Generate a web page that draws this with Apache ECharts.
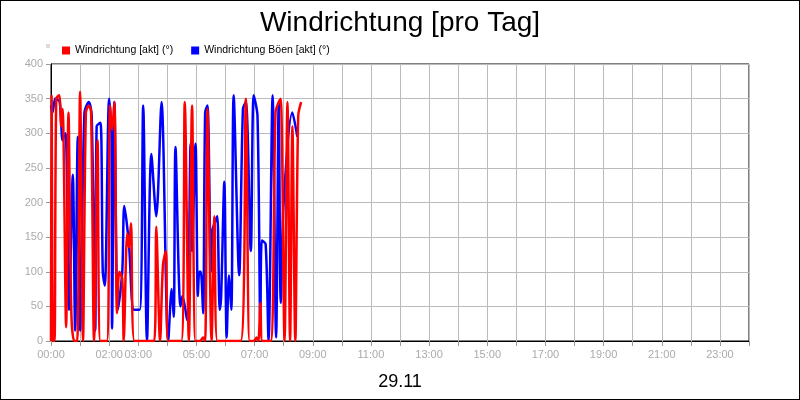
<!DOCTYPE html><html><head><meta charset="utf-8"><script src="https://cdn.jsdelivr.net/npm/echarts@6/dist/echarts.min.js"></script>
<style>html,body{margin:0;padding:0}#c{width:800px;height:400px;box-sizing:border-box;border:1px solid #000}</style></head><body><div id="c"></div><script>
const shownHours=[0,2,3,5,7,9,11,13,15,17,19,21,23];
const yTicks=[0,50,100,150,200,250,300,350,400];
const blueHours=[0,0.05,0.15,0.3,0.4,0.5,0.62,0.75,0.83,0.92,1.0,1.15,1.3,1.4,1.52,1.57,1.7,1.78,1.85,2.0,2.08,2.1,2.18,2.3,2.45,2.52,2.68,2.85,3.05,3.17,3.3,3.45,3.62,3.8,4.03,4.15,4.22,4.28,4.45,4.52,4.68,4.8,4.85,4.97,5.05,5.1,5.15,5.23,5.3,5.38,5.5,5.55,5.67,5.72,5.8,5.85,5.96,6.04,6.12,6.2,6.28,6.47,6.6,6.7,6.87,6.97,7.1,7.2,7.25,7.38,7.48,7.62,7.74,7.83,7.9,8.0,8.3,8.47];
const blueVals=[340,330,350,345,290,300,45,240,15,295,15,330,345,325,15,310,315,100,80,350,295,18,345,45,100,195,140,45,45,340,0,270,180,345,0,75,35,280,50,65,30,285,130,285,65,100,100,40,330,340,100,160,175,180,45,65,230,5,95,45,355,95,335,345,130,355,325,25,145,140,0,355,5,345,55,200,330,295];
const redHours=[0,0.02,0.07,0.12,0.18,0.28,0.35,0.4,0.52,0.6,0.7,0.8,0.9,1.0,1.1,1.2,1.3,1.38,1.48,1.6,1.7,1.92,2.03,2.1,2.18,2.27,2.35,2.45,2.5,2.62,2.68,2.75,2.87,3.55,3.62,3.75,3.85,3.95,4.03,4.48,4.6,4.74,4.85,4.97,5.12,5.23,5.3,5.38,5.52,5.62,5.72,6.52,6.7,6.83,6.97,7.07,7.13,7.2,7.27,7.55,7.72,7.83,7.9,8.03,8.13,8.22,8.3,8.4,8.5,8.6];
const redVals=[0,355,0,0,350,355,310,335,20,330,40,0,0,360,0,330,340,330,0,290,0,0,340,305,345,40,100,90,0,155,135,170,0,0,165,0,110,130,0,0,345,0,340,0,0,5,0,335,0,180,0,0,350,0,0,5,0,55,0,0,330,345,350,0,345,0,310,0,325,345];
const blue=blueHours.map((h,i)=>[h,blueVals[i]]);
const red=redHours.map((h,i)=>[h,redVals[i]]);
const ch=echarts.init(document.getElementById('c'));
ch.setOption({animation:false,
title:[{text:'Windrichtung [pro Tag]',left:'center',top:3,textStyle:{fontFamily:'Liberation Sans',fontSize:28,fontWeight:'normal',color:'#000'}},
{text:'29.11',left:'center',top:367,textStyle:{fontFamily:'Liberation Sans',fontSize:18,fontWeight:'normal',color:'#000'}}],
graphic:[{type:'rect',shape:{x:45,y:43,width:4,height:4},style:{fill:'#ddd'}}],
legend:{left:56,top:39,itemWidth:8,itemHeight:8,itemGap:18,icon:'rect',textStyle:{fontFamily:'Liberation Sans',fontSize:10.5,color:'#000'},data:['Windrichtung [akt] (°)','Windrichtung Böen [akt] (°)']},
grid:{left:50,right:50,top:63,bottom:58,show:true,borderColor:'#000',borderWidth:1},
xAxis:{type:'value',min:0,max:24,interval:1,axisLine:{lineStyle:{color:'#000'}},axisTick:{show:true,lineStyle:{color:'#999'}},splitLine:{lineStyle:{color:'#bbb'}},
axisLabel:{color:'#aaa',fontFamily:'Liberation Sans',fontSize:11,formatter:v=>shownHours.includes(v)?String(v).padStart(2,'0')+':00':''}},
yAxis:{type:'value',min:yTicks[0],max:yTicks[yTicks.length-1],interval:50,axisLine:{show:true,lineStyle:{color:'#000'}},axisTick:{show:true,lineStyle:{color:'#999'}},splitLine:{lineStyle:{color:'#bbb'}},axisLabel:{color:'#aaa',fontFamily:'Liberation Sans',fontSize:11}},
series:[
{name:'Windrichtung Böen [akt] (°)',type:'line',data:blue,showSymbol:false,smooth:0.3,z:2,lineStyle:{color:'#0000ff',width:2.5},itemStyle:{color:'#0000ff'}},
{name:'Windrichtung [akt] (°)',type:'line',data:red,showSymbol:false,smooth:0.3,z:3,lineStyle:{color:'#ff0000',width:2.5},itemStyle:{color:'#ff0000'}}
]});
</script></body></html>
